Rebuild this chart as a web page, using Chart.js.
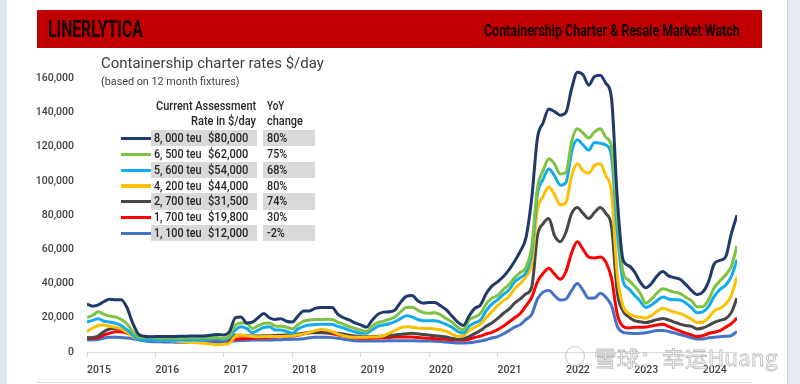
<!DOCTYPE html>
<html>
<head>
<meta charset="utf-8">
<script src="https://cdn.jsdelivr.net/npm/chart.js@4.4.1/dist/chart.umd.min.js"></script>
<style>
    body { margin: 0; width: 800px; height: 384px; overflow: hidden; background: #fff; position: relative; font-family: Roboto, sans-serif; }
    .abs { position: absolute; white-space: nowrap; line-height: 1; transform-origin: left center; }
    #chart { position: absolute; left: 0; top: 0; }
</style>
</head>
<body>
<div class="abs" style="left:0;top:0;width:7px;height:384px;background:#dfe6ee;"></div>
<div class="abs" style="left:787px;top:0;width:13px;height:384px;background:#e6ebf1;border-left:1px solid #cdd5de;"></div>
<div class="abs" style="left:37px;top:382px;width:715px;height:1px;background:#d9d9d9;"></div>
<div class="abs" style="left:37px;top:10px;width:725px;height:38px;background:#c00000;"></div>
<canvas id="chart" width="800" height="384"></canvas>
<div id="overlay"></div>

<script>
// values in $ thousand per day, one point per month, Jan 2015 .. Jul 2024
const teu8000 = [
    28, 26.8, 27.5, 29.5, 30.8, 30.5, 30.5, 26, 17, 10.5, 9.2, 8.9,
    9, 9, 9, 9, 9.2, 9.2, 9.3, 9.3, 9.3, 9.5, 10, 10.3,
    10, 12, 20, 20.5, 17, 17.5, 20, 22.5, 20, 19, 19.5, 18,
    17.5, 21, 24, 24, 25.5, 26, 26, 26, 22, 20, 18.7, 17,
    15.8, 14.5, 18.5, 22, 23.3, 23.5, 24.5, 29, 32.5, 33, 30, 28.5,
    29, 29, 27, 24.7, 21, 17.5, 15.5, 21, 25.5, 27.4, 34, 38.5,
    41, 44, 48, 53, 59, 67, 90, 125, 134, 142, 140.5, 138.4,
    140, 154, 163.5, 162, 156, 161, 161.8, 157, 148, 90, 54, 50.5,
    47, 41, 37.5, 40, 44.5, 47, 44.5, 43.5, 42.5, 39.5, 36, 33.5,
    35, 41, 51.5, 53.5, 55.5, 69, 80
];
const teu6500 = [
    20, 21.5, 23.5, 22, 21, 20.5, 19, 16.5, 12, 9, 8.5, 8.5,
    8.3, 8.2, 8.2, 8.2, 8.2, 8.2, 8.3, 8.3, 8.3, 8.3, 8.4, 8.5,
    8, 9.5, 15.5, 17, 16.8, 13.8, 15.2, 16.7, 17, 15.2, 15, 14.5,
    13.5, 16, 18, 18.7, 19, 19, 19.1, 19, 17.5, 16.3, 14.8, 13.8,
    12.8, 12, 15, 17.2, 18, 19.1, 20.5, 23.5, 26, 26.2, 24.5, 23,
    22.7, 23, 21.8, 19.5, 17.5, 14.5, 13, 18.7, 20.5, 22.5, 28, 31.5,
    33, 36.5, 39.3, 43.5, 46.5, 49.5, 61.5, 96, 106, 113, 110, 104,
    105, 123, 130.5, 128, 125, 128.6, 130.5, 125.5, 120, 80, 47, 42,
    38.5, 34.5, 28.5, 31, 34.5, 37, 36, 35, 34.3, 32, 30, 26.5,
    26.5, 30.5, 37.5, 41.5, 45, 50, 62
];
const teu5600 = [
    17.5, 18.5, 19.5, 18, 17.5, 16.8, 15.5, 13, 10, 7.5, 7, 7,
    7, 7, 6.8, 6.8, 7, 7, 7, 7, 7, 7.2, 7.4, 7.5,
    7.2, 8.5, 12.8, 14.8, 13.8, 11.2, 12.8, 14.3, 14.8, 12.8, 12.8, 12,
    11, 13.5, 15, 15.8, 16, 16.2, 16.2, 16.1, 15, 14, 12.8, 11.8,
    11, 10.9, 13, 15, 15.8, 16.5, 17.8, 19.5, 21.2, 20.5, 19, 18.3,
    18.3, 18.3, 17.5, 16, 14.5, 12, 11.2, 15, 17, 18.7, 24, 28,
    30.5, 33.5, 36.2, 41, 43.5, 46.5, 58, 92, 101, 107, 103, 97.5,
    99, 117, 124, 121, 118, 122.5, 122, 121, 114, 70, 41.5, 37,
    33.3, 29.8, 26, 27.5, 30, 32.2, 31, 30.5, 30.4, 28.7, 26, 23,
    23.5, 26.5, 32.5, 36.5, 39, 44, 54
];
const teu4200 = [
    12, 14, 15.5, 15.8, 15, 14.5, 13.5, 11.5, 9, 7.8, 7.5, 7.3,
    7.2, 7, 6.8, 6.5, 6.3, 6, 5.8, 5.5, 5.2, 5, 4.5, 4.2,
    4.5, 5, 9.3, 9.9, 9.5, 9, 8.9, 9, 9, 9, 9, 9.2,
    9.5, 9.9, 10.5, 11.5, 12.5, 13.2, 12.8, 12, 10.5, 9.5, 8.8, 8.6,
    8.6, 8.6, 8.8, 8.9, 9.5, 11, 12.5, 14.2, 14.8, 14.5, 14, 13.8,
    13.8, 13.5, 13, 12, 10.5, 9.2, 9.5, 12.5, 14.5, 16.3, 20, 23.5,
    27, 30, 32.3, 37, 40, 44, 52, 83, 91, 96.5, 92, 86,
    87.5, 103, 110, 106, 104.5, 109, 110, 103, 93, 45, 27, 22.5,
    21, 20.3, 19.8, 21.5, 23.8, 25.5, 24.5, 23.3, 22.5, 21, 19.2, 17.2,
    17.5, 20, 24, 25.5, 28, 33, 44
];
const teu2700 = [
    8.3, 8.5, 9.5, 12, 13.5, 13.8, 13.3, 12, 10.5, 9, 8.5, 8.3,
    8.3, 8.2, 8, 8, 8, 8, 8, 8, 7.8, 7.8, 7.8, 7.8,
    7.5, 8, 9.8, 9.8, 9.5, 9.3, 9.3, 9.5, 9.5, 9.7, 9.8, 10,
    10.2, 10.5, 11, 11.3, 11.3, 11.3, 11.3, 11.3, 11, 10.5, 9.8, 9.3,
    9, 8.9, 9, 9.2, 9.4, 9.5, 10, 10.3, 10.7, 10.9, 10.6, 10.2,
    9.9, 9.5, 9.2, 8.8, 8, 7.5, 7.7, 9, 10.7, 12.5, 15, 17,
    19.5, 22.5, 25, 28.5, 31, 34, 38, 68, 75, 78, 68, 64.5,
    70, 81, 84.5, 81, 78, 81.5, 84.5, 81, 73, 35, 24, 20.5,
    18.3, 17.7, 17.2, 18, 18.9, 19.6, 18.7, 17.5, 16.3, 15.5, 15, 13.5,
    14, 15.5, 17.3, 18.5, 19.5, 23, 31.5
];
const teu1700 = [
    8, 8, 8.5, 10, 11, 11.8, 11.8, 11, 10, 9, 8.6, 8.3,
    8, 8, 7.8, 7.8, 7.7, 7.6, 7.5, 7.5, 7.4, 7.3, 7.2, 7.2,
    7.1, 7.3, 7.5, 7.7, 7.9, 8, 8.2, 8.4, 8.6, 8.8, 8.9, 9,
    9.3, 9.8, 10.5, 11.2, 11.5, 11.5, 11.2, 10.7, 10, 9.3, 8.7, 8.3,
    8, 8, 8.1, 8.2, 8.4, 8.5, 8.7, 8.8, 8.8, 8.7, 8.5, 8.2,
    8, 7.8, 7.6, 7.4, 7.1, 7, 7, 7.5, 8.5, 9.3, 10.5, 11.5,
    13, 15, 17.5, 20, 22.5, 27, 32, 41, 46, 49, 45.5, 42.5,
    47, 58, 64.5, 60, 55.5, 55, 55.5, 52.5, 43, 22, 15, 14,
    14.5, 14.4, 14.6, 15.2, 15.8, 16.2, 15, 13.5, 12.3, 11, 10, 9,
    9.5, 10.8, 11.5, 12.5, 14.5, 16.5, 19.8
];
const teu1100 = [
    7, 7.2, 7.3, 8.2, 8.6, 8.6, 8.5, 8.2, 7.8, 7.2, 6.6, 6.2,
    6, 6, 5.8, 5.8, 5.7, 5.7, 5.8, 5.8, 5.8, 5.7, 5.7, 5.7,
    6, 6.2, 6.5, 6.7, 6.8, 7, 7, 7, 7, 7.1, 7.2, 7.3,
    7.4, 7.5, 7.8, 8.3, 8.6, 8.6, 8.6, 8.4, 8, 7.5, 7, 6.6,
    6.4, 6.4, 6.4, 6.5, 6.5, 6.6, 6.6, 6.6, 6.6, 6.6, 6.5, 6.4,
    6.4, 6.3, 6.1, 5.9, 5.6, 5.2, 5.2, 5.4, 5.8, 6.4, 7.2, 8.2,
    9, 10.5, 12.5, 14.5, 16, 19, 22, 31, 35, 36, 33, 30.4,
    31, 36, 40, 36, 31.4, 31.5, 34.3, 32, 27, 15, 11.5, 11,
    10.8, 10.9, 11.2, 11.9, 12.6, 12.6, 12, 11.2, 10.2, 9.3, 8.3, 7.6,
    7.6, 8.3, 8.6, 8.9, 9.2, 9.6, 12
];

const seriesData = [teu8000, teu6500, teu5600, teu4200, teu2700, teu1700, teu1100];
const seriesColors = ['#1f3a6b', '#7fc241', '#12abee', '#ffc000', '#474747', '#ff0000', '#4472c4'];
const legendSizes = ['8, 000 teu', '6, 500 teu', '5, 600 teu', '4, 200 teu', '2, 700 teu', '1, 700 teu', '1, 100 teu'];
const legendRates = ['$80,000', '$62,000', '$54,000', '$44,000', '$31,500', '$19,800', '$12,000'];
const legendYoy = ['80%', '75%', '68%', '80%', '74%', '30%', '-2%'];

const xTickLabels = ['2015', '2016', '2017', '2018', '2019', '2020', '2021', '2022', '2023', '2024'];
const xTickMonths = [0, 12, 24, 36, 48, 60, 72, 84, 96, 108];
const yTickLabels = ['0', '20,000', '40,000', '60,000', '80,000', '100,000', '120,000', '140,000', '160,000'];

const overlay = document.getElementById('overlay');

// places a line of text by the middle of its capitals; squeezes it to a width or by a factor
function addText(text, left, capMid, size, opts = {}) {
    const el = document.createElement('div');
    el.className = 'abs';
    el.textContent = text;
    el.style.left = left + 'px';
    el.style.top = (capMid - size / 2) + 'px';
    el.style.fontSize = size + 'px';
    el.style.fontWeight = opts.weight || 400;
    el.style.color = opts.color || '#262626';
    if (opts.family) el.style.fontFamily = opts.family;
    overlay.appendChild(el);
    const natural = el.offsetWidth;
    const scale = opts.width ? opts.width / natural : (opts.scale || 1);
    el.style.transform = `scaleX(${scale})`;
    el.dataset.scale = scale;
    return el;
}

function addBox(left, top, width, height, color) {
    const el = document.createElement('div');
    el.className = 'abs';
    Object.assign(el.style, {
        left: left + 'px', top: top + 'px', width: width + 'px', height: height + 'px', background: color
    });
    overlay.appendChild(el);
}

function drawHeader() {
    addText('LINERLYTICA', 48, 28.5, 24, { weight: 700, color: '#140000', width: 94.5 });
    addText('Containership Charter & Resale Market Watch', 484, 31, 16, { weight: 700, color: '#140000', width: 256 });
    addText('Containership charter rates $/day', 101, 64, 15.5, { color: '#404040', width: 223 });
    addText('(based on 12 month fixtures)', 101, 82, 11.5, { color: '#404040', width: 139 });
}

function drawLegend() {
    const w = 500;
    addText('Current Assessment', 156, 106.7, 12.5, { width: 100, weight: w });
    addText('Rate in $/day', 190.7, 121.7, 12.5, { width: 65.3, weight: w });
    addText('YoY', 266.7, 106.7, 12.5, { width: 17.3, weight: w });
    addText('change', 266.7, 121.7, 12.5, { width: 36, weight: w });

    const rowPitch = 15.85;
    let sizeScale = null, rateScale = null, yoyScale = null;
    legendSizes.forEach((size, i) => {
        const mid = 138.3 + i * rowPitch;
        if (i % 2 === 0) {
            addBox(150.7, mid - 8.5, 106, 16.5, '#d9d9d9');
            addBox(263.3, mid - 8.5, 52, 16.5, '#d9d9d9');
        }
        addBox(120.7, mid - 1.5, 30, 3.2, seriesColors[i]);
        const a = addText(size, 154.3, mid, 12.5, sizeScale ? { scale: sizeScale, weight: w } : { width: 47.4, weight: w });
        sizeScale = sizeScale || +a.dataset.scale;
        const b = addText(legendRates[i], 208.3, mid, 12.5, rateScale ? { scale: rateScale, weight: w } : { width: 40, weight: w });
        rateScale = rateScale || +b.dataset.scale;
        const c = addText(legendYoy[i], 267.3, mid, 12.5, yoyScale ? { scale: yoyScale, weight: w } : { width: 20, weight: w });
        yoyScale = yoyScale || +c.dataset.scale;
    });
}

function drawWatermark() {
    const ring = document.createElement('div');
    ring.className = 'abs';
    Object.assign(ring.style, {
        left: '565px', top: '346px', width: '20px', height: '20px', borderRadius: '50%',
        border: '1.5px solid #c8c8c8', boxSizing: 'border-box'
    });
    overlay.appendChild(ring);
    const el = addText('雪球：幸运Huang', 594, 357, 21, { color: 'rgba(255,255,255,0.85)', family: '"Noto Sans CJK SC", sans-serif', width: 184 });
    el.style.webkitTextStroke = '0.8px #bdbdbd';
}

function renderChart() {
    const tickFont = { family: 'Roboto', size: 10.5, weight: 500 };
    new Chart(document.getElementById('chart'), {
        type: 'line',
        data: {
            labels: teu8000.map((_, i) => i),
            datasets: seriesData.map((values, i) => ({
                label: legendSizes[i],
                data: values,
                borderColor: seriesColors[i],
                borderWidth: 3,
                pointRadius: 0,
                cubicInterpolationMode: 'monotone',
                fill: false
            }))
        },
        options: {
            responsive: false,
            animation: false,
            layout: { padding: { top: 44, right: 63, left: 0, bottom: 0 } },
            plugins: { legend: { display: false }, tooltip: { enabled: false } },
            scales: {
                x: {
                    type: 'linear',
                    min: 0,
                    max: 114,
                    afterFit: s => { s.height = 32; },
                    afterBuildTicks: s => { s.ticks = xTickMonths.map(v => ({ value: v })); },
                    grid: { drawOnChartArea: false, drawTicks: true, tickLength: 5, color: '#d9d9d9' },
                    border: { color: '#d9d9d9' },
                    ticks: {
                        align: 'start',
                        padding: 7,
                        maxRotation: 0,
                        autoSkip: false,
                        color: '#404040',
                        font: tickFont,
                        callback: (v, i) => xTickLabels[i]
                    }
                },
                y: {
                    min: 0,
                    max: 180,
                    afterFit: s => { s.width = 87; },
                    grid: { display: false, drawTicks: false },
                    border: { display: false },
                    ticks: {
                        stepSize: 20,
                        padding: 13,
                        color: '#404040',
                        font: tickFont,
                        callback: (v, i) => yTickLabels[i] ?? ''
                    }
                }
            }
        }
    });
}

Promise.all([
    document.fonts.load('500 10.5px Roboto'),
    document.fonts.load('700 16px Roboto'),
    document.fonts.load('21px "Noto Sans CJK SC"')
]).catch(() => {}).then(() => {
    renderChart();
    drawHeader();
    drawLegend();
    drawWatermark();
});
</script>
</body>
</html>
